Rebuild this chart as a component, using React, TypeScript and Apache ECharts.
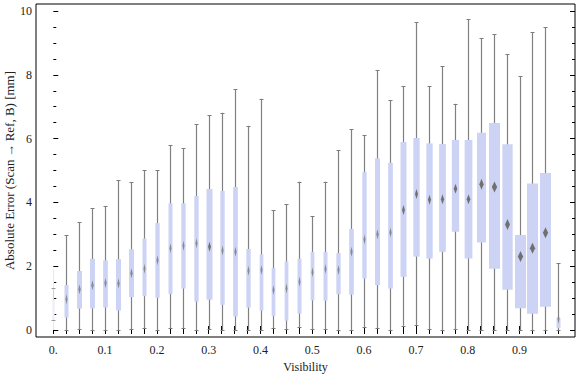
import React, { useEffect, useRef } from "react";
import * as echarts from "echarts";

// Visibility categories (box positions)
const visibility = [
  0, 0.025, 0.05, 0.075, 0.1, 0.125, 0.15, 0.175, 0.2, 0.225,
  0.25, 0.275, 0.3, 0.325, 0.35, 0.375, 0.4, 0.425, 0.45, 0.475,
  0.5, 0.525, 0.55, 0.575, 0.6, 0.625, 0.65, 0.675, 0.7, 0.725,
  0.75, 0.775, 0.8, 0.825, 0.85, 0.875, 0.9, 0.925, 0.95, 0.975,
];
const whiskerLow = [
  0.3, 0, 0.02, 0, 0, 0, 0.03, 0.05, 0, 0.05,
  0.05, 0, 0.03, 0, 0, 0, 0, 0.05, 0.03, 0.09,
  0.03, 0.03, 0, 0, 0.09, 0.05, 0, 0.13, 0.16, 0.03,
  0, 0.03, 0, 0, 0, 0, 0, 0, 0, 0,
];
const quartile1 = [
  0.32, 0.39, 0.67, 0.68, 0.71, 0.61, 1.03, 1.06, 1.01, 1.13,
  1.3, 0.89, 0.95, 0.79, 0.42, 0.7, 0.61, 0.43, 0.29, 0.51,
  0.93, 0.92, 1.12, 1.11, 1.61, 1.41, 1.3, 1.67, 2.3, 2.24,
  2.45, 3.08, 2.24, 2.74, 1.92, 1.26, 0.68, 0.51, 0.73, 0.06,
];
const median = [
  0.55, 0.96, 1.28, 1.4, 1.47, 1.46, 1.78, 1.92, 2.19, 2.56,
  2.64, 2.72, 2.61, 2.49, 2.45, 1.86, 1.88, 1.25, 1.3, 1.51,
  1.81, 1.91, 1.88, 2.45, 2.84, 3.0, 3.06, 3.76, 4.26, 4.08,
  4.1, 4.43, 4.1, 4.57, 4.48, 3.31, 2.3, 2.56, 3.05, 0.35,
];
const quartile3 = [
  0.94, 1.41, 1.85, 2.23, 2.18, 2.22, 2.53, 2.87, 3.35, 3.97,
  3.97, 4.2, 4.42, 4.36, 4.48, 2.54, 2.37, 1.94, 2.15, 2.23,
  2.45, 2.45, 2.41, 3.17, 4.95, 5.38, 5.24, 5.89, 6.02, 5.85,
  5.83, 5.96, 5.96, 6.18, 6.49, 5.82, 2.98, 4.59, 4.92, 0.38,
];
const whiskerHigh = [
  1.31, 2.97, 3.38, 3.81, 3.88, 4.69, 4.63, 5.01, 5.01, 5.79,
  5.7, 6.45, 6.73, 6.81, 7.55, 6.4, 7.25, 3.75, 3.95, 4.65,
  3.56, 4.65, 5.63, 6.29, 6.1, 8.14, 7.2, 7.64, 9.65, 7.64,
  8.27, 7.09, 9.75, 9.14, 9.27, 8.64, 7.95, 9.33, 9.5, 2.09,
];
// faint full range drawn behind the first (sparse) box
const faintRange = [0, 1.9];

// tick values
const xLabelTicks = [0, 0.1, 0.2, 0.3, 0.4, 0.5, 0.6, 0.7, 0.8, 0.9];
const yMajorTicks = [0, 2, 4, 6, 8, 10];
const yMinorTicks = [0.5, 1, 1.5, 2.5, 3, 3.5, 4.5, 5, 5.5, 6.5, 7, 7.5, 8.5, 9, 9.5];

// styles (box widths in px, per box)
const boxWidthPx = [
  2, 4, 5, 5, 4.7, 5, 5, 4, 4.3, 4,
  4.3, 4.3, 6, 4.3, 4.7, 4.3, 3.7, 3.7, 3.7, 4,
  3.7, 4, 4.3, 4.7, 4.3, 5, 4.7, 6, 6.3, 6.3,
  6.7, 7.3, 7.7, 9, 11, 10.3, 11, 11, 11, 4,
];

const X_MIN = -0.0334;
const X_MAX = 1.0071;
const Y_MIN = -0.22;
const Y_MAX = 10.22;
const FONT = "'Liberation Serif', 'Times New Roman', serif";
const TEXT = "#222";

export default function App() {
  const ref = useRef<HTMLDivElement>(null);

  useEffect(() => {
    if (!ref.current) return;
    const chart = echarts.init(ref.current, null, { renderer: "svg" });

    const data = visibility.map((v, i) => [
      v, whiskerLow[i], quartile1[i], median[i], quartile3[i], whiskerHigh[i], boxWidthPx[i], i,
    ]);

    const renderItem = (params: any, api: any) => {
      const x = api.value(0);
      const idx = api.value(7);
      const w = api.value(6);
      const faint = idx === 0;
      const p = api.coord([x, api.value(1)]);
      const cx = Math.round(p[0]) + 0.5;
      const yLo = p[1];
      const yQ1 = api.coord([x, api.value(2)])[1];
      const yMed = api.coord([x, api.value(3)])[1];
      const yQ3 = api.coord([x, api.value(4)])[1];
      const yHi = api.coord([x, api.value(5)])[1];
      const children: any[] = [];
      if (faint) {
        const f0 = api.coord([x, faintRange[0]])[1];
        const f1 = api.coord([x, faintRange[1]])[1];
        children.push({
          type: "line",
          shape: { x1: cx, y1: f0, x2: cx, y2: f1 },
          style: { stroke: "#e8e8e8", lineWidth: 1 },
        });
      }
      children.push({
        type: "line",
        shape: { x1: cx, y1: yLo, x2: cx, y2: yHi },
        style: { stroke: faint ? "#d4d4d4" : "#808080", lineWidth: 1.2 },
      });
      const capColor = faint ? "#9a9a9a" : "#7c7c7c";
      children.push({
        type: "line",
        shape: { x1: cx - 2, y1: Math.round(yLo) + 0.5, x2: cx + 2, y2: Math.round(yLo) + 0.5 },
        style: { stroke: capColor, lineWidth: 1 },
      });
      children.push({
        type: "line",
        shape: { x1: cx - 2, y1: Math.round(yHi) + 0.5, x2: cx + 2, y2: Math.round(yHi) + 0.5 },
        style: { stroke: capColor, lineWidth: 1 },
      });
      children.push({
        type: "rect",
        shape: { x: cx - w / 2, y: yQ3, width: w, height: yQ1 - yQ3 },
        style: { fill: faint ? "#eceffb" : "#ccd3f5" },
      });
      if (!faint) {
        const hw = Math.max(1, w * 0.24);
        const hh = w >= 8 ? 5.5 : 5;
        children.push({
          type: "polygon",
          shape: {
            points: [
              [cx, yMed - hh],
              [cx + hw, yMed],
              [cx, yMed + hh],
              [cx - hw, yMed],
            ],
          },
          style: { fill: w >= 6 ? "#707070" : "#7e7e7e", opacity: w >= 6 ? 1 : 0.85 },
        });
      }
      return { type: "group", children };
    };

    const baseX = { type: "value", min: X_MIN, max: X_MAX, splitLine: { show: false }, axisLine: { show: false } };
    const baseY = { type: "value", min: Y_MIN, max: Y_MAX, splitLine: { show: false }, axisLine: { show: false } };

    chart.setOption({
      animation: false,
      grid: {
        left: 36,
        right: 1,
        top: 4,
        bottom: 40,
        show: true,
        containLabel: false,
        outerBoundsMode: "none",
        borderColor: "#000",
        borderWidth: 1,
        backgroundColor: "transparent",
      },
      xAxis: [
        {
          ...baseX,
          position: "bottom",
          name: "Visibility",
          nameLocation: "middle",
          nameGap: 24,
          nameTextStyle: { fontFamily: FONT, fontSize: 12, color: TEXT },
          axisTick: {
            show: true,
            inside: true,
            length: 4,
            customValues: visibility,
            lineStyle: { color: "#000", width: 1 },
          },
          axisLabel: {
            show: true,
            customValues: xLabelTicks,
            margin: 7,
            fontFamily: FONT,
            fontSize: 12,
            color: TEXT,
            formatter: (v: number) => (v === 0 ? "0." : v.toFixed(1)),
          },
        },
        {
          ...baseX,
          position: "top",
          axisTick: {
            show: true,
            inside: true,
            length: 4,
            customValues: visibility,
            lineStyle: { color: "#000", width: 1 },
          },
          axisLabel: { show: false },
        },
      ],
      yAxis: [
        {
          ...baseY,
          position: "left",
          name: "Absolute Error (Scan\u2009\u2192\u2009Ref, B) [mm]",
          nameLocation: "middle",
          nameGap: 20,
          nameMoveOverlap: false,
          nameRotate: 90,
          nameTextStyle: { fontFamily: FONT, fontSize: 13, color: TEXT },
          axisTick: {
            show: true,
            inside: true,
            length: 5,
            customValues: yMajorTicks,
            lineStyle: { color: "#000", width: 1 },
          },
          axisLabel: {
            show: true,
            customValues: yMajorTicks,
            margin: 4,
            fontFamily: FONT,
            fontSize: 12,
            color: TEXT,
          },
        },
        {
          ...baseY,
          position: "left",
          axisTick: {
            show: true,
            inside: true,
            length: 3,
            customValues: yMinorTicks,
            lineStyle: { color: "#000", width: 1 },
          },
          axisLabel: { show: false },
        },
        {
          ...baseY,
          position: "right",
          axisTick: {
            show: true,
            inside: true,
            length: 5,
            customValues: yMajorTicks,
            lineStyle: { color: "#000", width: 1 },
          },
          axisLabel: { show: false },
        },
        {
          ...baseY,
          position: "right",
          axisTick: {
            show: true,
            inside: true,
            length: 3,
            customValues: yMinorTicks,
            lineStyle: { color: "#000", width: 1 },
          },
          axisLabel: { show: false },
        },
      ],
      series: [
        {
          type: "custom",
          xAxisIndex: 0,
          yAxisIndex: 0,
          renderItem,
          encode: { x: 0, y: [1, 2, 3, 4, 5] },
          data,
          clip: false,
        },
      ],
    });

    return () => chart.dispose();
  }, []);

  return <div ref={ref} style={{ width: 576, height: 377, position: "absolute", left: 0, top: 0 }} />;
}
